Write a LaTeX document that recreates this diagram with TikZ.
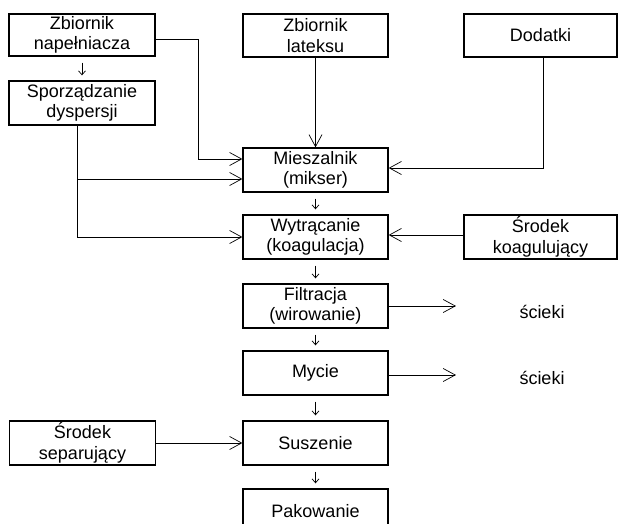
\documentclass[tikz,border=0pt]{standalone}
\usepackage{fontspec}
\setmainfont{Liberation Sans}
\usetikzlibrary{arrows.meta}

\tikzset{
  box/.style={draw, line width=1.3pt, minimum width=145pt, minimum height=44pt,
    inner sep=0pt, align=center, font=\fontsize{18}{20.5}\selectfont},
  plain/.style={font=\fontsize{18}{20.5}\selectfont},
  feed/.style={line width=0.7pt, -{Straight Barb[length=12pt,width=13pt,line width=0.7pt]}},
  small/.style={line width=0.7pt, -{Straight Barb[length=4pt,width=7pt,line width=0.7pt]},
    shorten <=6pt, shorten >=5pt}
}

\begin{document}
\begin{tikzpicture}[x=1pt,y=-1pt]
  \clip (0,0) rectangle (618,524);
  \node[box, minimum width=146pt, minimum height=42pt] (zbnap) at (82,35) {Zbiornik\\napełniacza};
  \node[box, minimum width=146pt] (dysp) at (82,103) {Sporządzanie\\dyspersji};
  \node[box, minimum height=43pt] (zblat) at (315.5,35.5) {Zbiornik\\lateksu};
  \node[box, minimum width=153pt, minimum height=43pt] (dodatki) at (540.5,35.5) {Dodatki};
  \node[box, minimum width=153pt] (koag) at (540.5,237) {Środek\\koagulujący};
  \node[box, minimum width=146pt] (separ) at (82.5,443) {Środek\\separujący};
  \foreach \name/\y/\txt in {mieszalnik/170/Mieszalnik\\(mikser), wytracanie/237/Wytrącanie\\(koagulacja),
      filtracja/306/Filtracja\\(wirowanie), mycie/373/Mycie, suszenie/443/Suszenie, pakowanie/511/Pakowanie}
    \node[box] (\name) at (315.5,\y) {\txt};
  \node[plain] (scieki1) at (542,312) {ścieki};
  \node[plain] (scieki2) at (542,378) {ścieki};

  \coordinate (j1) at (198,159);
  \coordinate (d1) at (77,179);
  \coordinate (d2) at (77,237);
  \draw[feed] ([yshift=-4pt]zbnap.east) -| (j1) -- (j1 -| mieszalnik.west);
  \draw[line width=0.7pt] ([xshift=-5pt]dysp.south) -- (d2);
  \draw[feed] (d1) -- (d1 -| mieszalnik.west);
  \draw[feed] (d2) -- (wytracanie.west);
  \draw[feed] (zblat) -- (mieszalnik);
  \draw[feed] ([xshift=2.5pt]dodatki.south) |- ([yshift=2pt]mieszalnik.east);
  \draw[feed] ([yshift=2pt]koag.west) -- ([yshift=2pt]wytracanie.east);
  \draw[feed, shorten >=60pt] (filtracja.east) -- (filtracja.east -| scieki1.west);
  \draw[feed, shorten >=60pt] ([yshift=-2pt]mycie.east) -- ([yshift=-2pt]mycie.east -| scieki2.west);
  \draw[feed] (separ) -- (suszenie);
  \foreach \a/\b in {zbnap/dysp, mieszalnik/wytracanie, wytracanie/filtracja, filtracja/mycie, mycie/suszenie, suszenie/pakowanie}
    \draw[small] (\a) -- (\b);
\end{tikzpicture}
\end{document}
